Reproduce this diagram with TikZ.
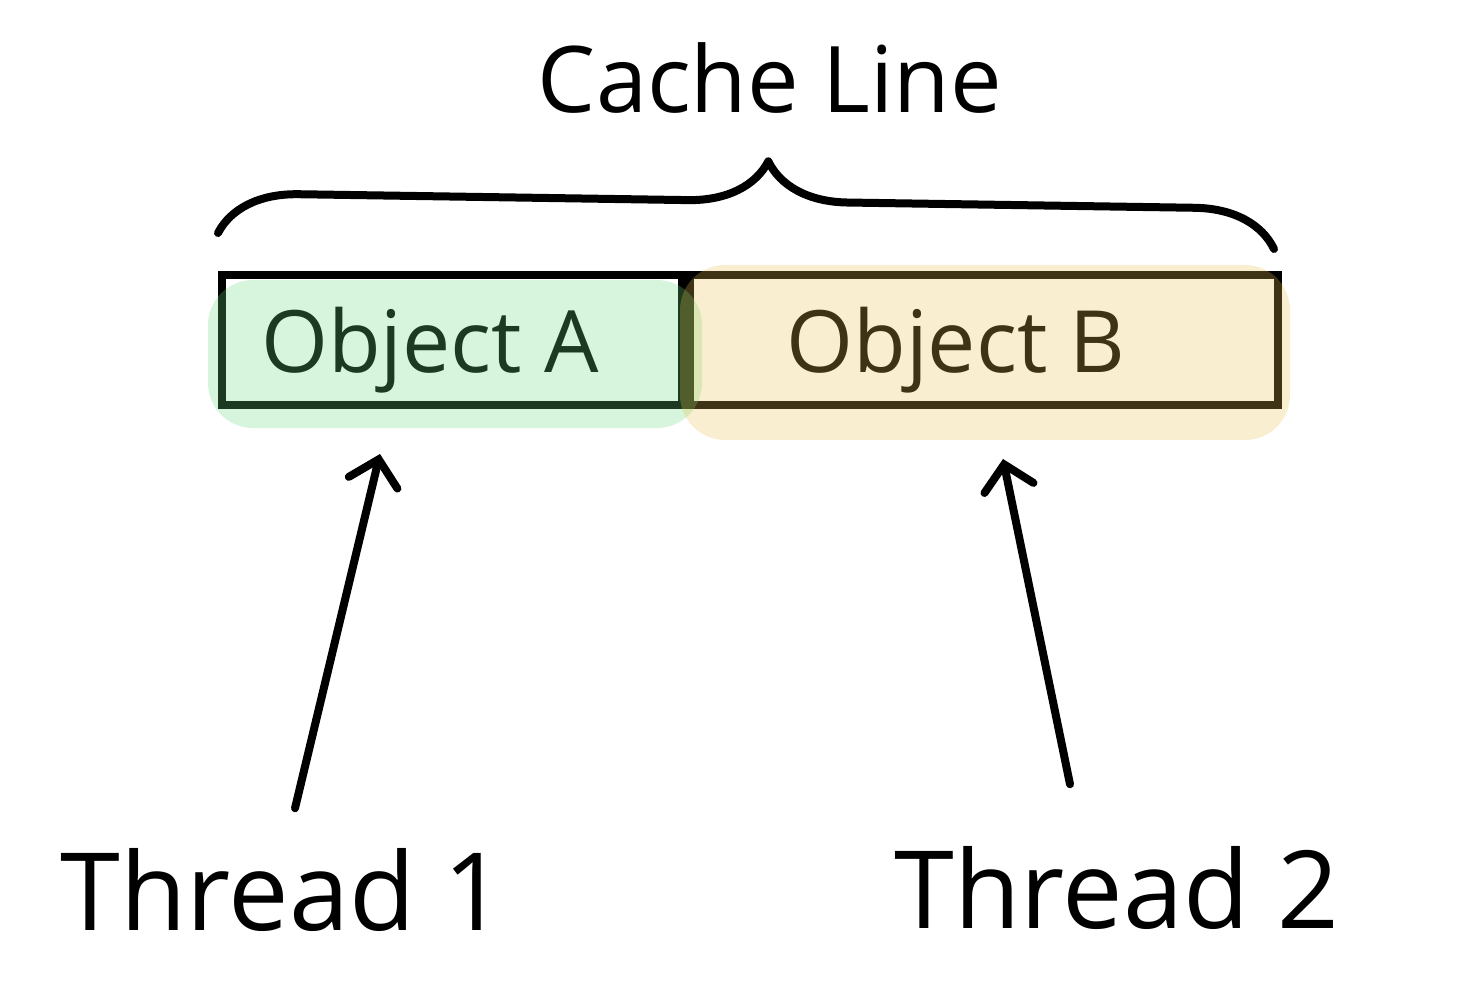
\documentclass[tikz,border=0pt]{standalone}
\usepackage{fontspec}
\setmainfont{Open Sans}
\usetikzlibrary{arrows.meta, positioning, calc, decorations.pathreplacing}
\definecolor{MarkGreen}{RGB}{107,214,125}
\definecolor{MarkYellow}{RGB}{231,192,77}

\tikzset{
  pen/.style={line width=8pt, line cap=round, line join=round},
  cellbox/.style={draw=black, line width=8pt, minimum height=130pt, inner sep=0pt,
    text height=72pt, text depth=8pt, font=\fontsize{86}{90}\selectfont},
  handtext/.style={inner sep=0pt, font=\fontsize{92}{100}\selectfont},
  arr/.style={pen, -{Straight Barb[length=24pt, width=50pt, line cap=round]}},
  marker/.style={fill opacity=0.27, rounded corners=45pt}
}

\begin{document}
\begin{tikzpicture}[x=1pt, y=-1pt]
  \useasboundingbox (0,0) rectangle (1472,1000);

  % the cache line, split in two objects
  \node[cellbox, minimum width=460pt] (objA) at (452,340) {Object A\rule{44pt}{0pt}};
  \node[cellbox, minimum width=588pt, right=0pt of objA] (objB) {Object B\rule{56pt}{0pt}};

  % highlighter strokes on top
  \fill[marker, MarkGreen] (208,280) rectangle (702,428);
  \fill[marker, MarkYellow] (680,265) rectangle (1290,440);

  % brace and title
  \draw[pen, decorate, decoration={brace, amplitude=80pt, aspect=0.52}]
    ($(objA.north west)+(0,-38)$) -- ($(objB.north east)+(-8,-22)$);
  \node[handtext] (title) at (770,78) {Cache Line};

  % threads
  \node[handtext, font=\fontsize{108}{118}\selectfont] (t1) at (283,890) {Thread 1};
  \node[handtext, font=\fontsize{108}{118}\selectfont] (t2) at (1117,888) {Thread 2};

  \draw[arr] ($(t1.north)+(12,-40)$) -- ($(objA.south)+(-72,45)$);
  \draw[arr] ($(t2.north)+(-47,-62)$) -- ($(objB.south)+(19,50)$);
\end{tikzpicture}
\end{document}
